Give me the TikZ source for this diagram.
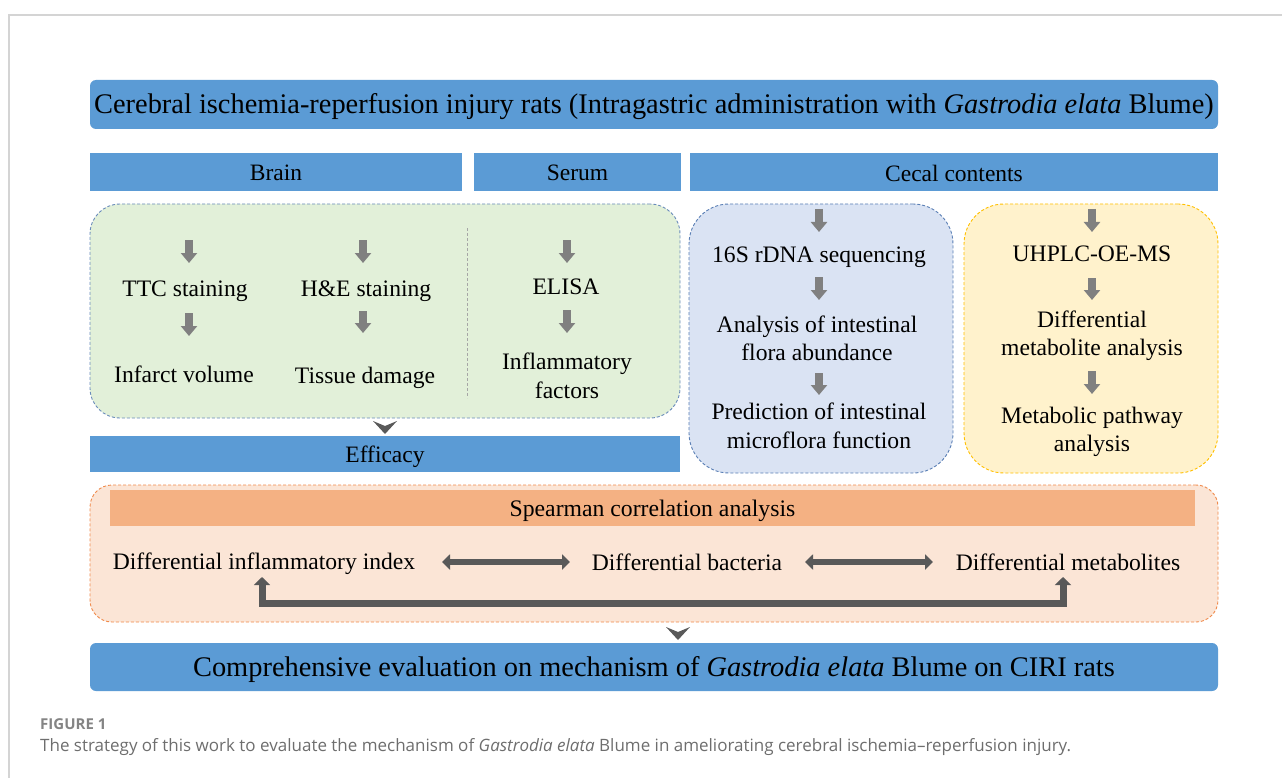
\documentclass[tikz,border=0pt]{standalone}
\usepackage{fontspec}
\setmainfont{Liberation Serif}
\newfontfamily\capfont{Open Sans}
\usetikzlibrary{arrows.meta}
\definecolor{hblue}{HTML}{5B9BD5}
\definecolor{gfill}{HTML}{E2F0D9}
\definecolor{bfill}{HTML}{DAE3F3}
\definecolor{yfill}{HTML}{FFF2CC}
\definecolor{ofill}{HTML}{FBE5D6}
\definecolor{obar}{HTML}{F4B183}
\definecolor{arrgray}{HTML}{808080}
\definecolor{dgray}{HTML}{595959}
\definecolor{gborder}{HTML}{6A8CBB}
\definecolor{bborder}{HTML}{5A7FB5}
\definecolor{yborder}{HTML}{FFC000}
\definecolor{oborder}{HTML}{F08A4B}
\definecolor{cardline}{HTML}{D4D4D4}
\definecolor{capgray}{HTML}{6E6E6E}
\tikzset{
  hbar/.style={fill=hblue, inner sep=0pt, font=\fontsize{23.5}{25}\selectfont},
  bigbar/.style={fill=hblue, inner sep=0pt, rounded corners=6pt, font=\fontsize{28.4}{30}\selectfont},
  panel/.style={dashed, dash pattern=on 3pt off 2pt, line width=0.9pt, inner sep=0pt},
  txt/.style={inner sep=0pt, align=center, font=\fontsize{23.6}{28.5}\selectfont},
  darr/.style={draw=arrgray, line width=8pt, -{Triangle[width=16pt,length=10pt]}},
  dbl/.style={draw=dgray, line width=6pt, {Triangle[width=15pt,length=8pt]}-{Triangle[width=15pt,length=8pt]}},
  chev/.style={fill=dgray}
}
\begin{document}
\begin{tikzpicture}[x=1pt,y=-1pt]
\useasboundingbox (0,0) rectangle (1282,778);
\fill[white] (0,0) rectangle (1282,778);
\draw[cardline, line width=1.5pt] (9,778) -- (9,15) -- (1282,15);

% title
\path[fill=hblue, rounded corners=6pt] (90,80) rectangle (1218,129);
\node[inner sep=0pt, font=\fontsize{28.4}{30}\selectfont] (title) at (654,106.5)
  {Cerebral ischemia-reperfusion injury rats (Intragastric administration with \textit{Gastrodia elata} Blume)};

% headers
\path[fill=hblue] (90,153) rectangle (462,191);
\path[fill=hblue] (474,153) rectangle (681,191);
\path[fill=hblue] (690,153) rectangle (1218,191);
\node[hbar] (brain) at (276,173) {Brain};
\node[hbar] (serum) at (577.5,173) {Serum};
\node[hbar] (cecal) at (954,173) {Cecal contents};

% panels
\node[panel, draw=gborder, fill=gfill, rounded corners=30pt, minimum width=590pt, minimum height=214pt] (green) at (385,311) {};
\node[panel, draw=bborder, fill=bfill, rounded corners=40pt, minimum width=264pt, minimum height=269pt] (bluep) at (821,338.5) {};
\node[panel, draw=yborder, fill=yfill, rounded corners=40pt, minimum width=254pt, minimum height=269pt] (yellowp) at (1091,338.5) {};
\draw[gray!70, dashed, dash pattern=on 3pt off 2pt, line width=0.8pt] (467,228) -- (467,398);

% green panel texts
\node[txt] (ttc) at (185,291) {TTC staining};
\node[txt] (he) at (366,291) {H\&E staining};
\node[txt] (infarct) at (184,374.5) {Infarct volume};
\node[txt] (tissue) at (365,378) {Tissue damage};
\node[txt] (elisa) at (566,287) {ELISA};
\node[txt] (inflf) at (567,376) {Inflammatory\\factors};
\draw[darr] (189,240) -- (189,263);
\draw[darr] (189,313) -- (189,336);
\draw[darr] (363,240) -- (363,263);
\draw[darr] (363,311) -- (363,333);
\draw[darr] (567,240) -- (567,263);
\draw[darr] (567,310) -- (567,333);

% efficacy
\fill[chev] (373,421) -- (385,426) -- (397,421) -- (385,434) -- cycle;
\path[fill=hblue] (90,436) rectangle (680,472);
\node[hbar] (eff) at (385,457) {Efficacy};

% blue panel
\node[txt] (seq) at (819,257) {16S rDNA sequencing};
\node[txt] (abund) at (817,338.5) {Analysis of intestinal\\flora abundance};
\node[txt] (pred) at (819,426) {Prediction of intestinal\\microflora function};
\draw[darr] (819,209) -- (819,232);
\draw[darr] (819,277) -- (819,300);
\draw[darr] (819,373) -- (819,395);

% yellow panel
\node[txt] (uhplc) at (1092,254) {UHPLC-OE-MS};
\node[txt] (diffm) at (1092,335.5) {Differential\\metabolite analysis};
\node[txt] (path) at (1092,432) {Metabolic pathway\\analysis};
\draw[darr] (1092,209) -- (1092,232);
\draw[darr] (1092,278) -- (1092,300);
\draw[darr] (1092,371) -- (1092,394);

% orange panel
\node[panel, draw=oborder, fill=ofill, rounded corners=22pt, minimum width=1128pt, minimum height=137pt] (orange) at (654,553.5) {};
\path[fill=obar] (110,490) rectangle (1195,526);
\node[inner sep=0pt, font=\fontsize{23.7}{25}\selectfont] (spear) at (652.5,511) {Spearman correlation analysis};
\node[txt] (dii) at (264,564) {Differential inflammatory index};
\node[txt] (dbac) at (687,562) {Differential bacteria};
\node[txt] (dmet) at (1068,562) {Differential metabolites};
\draw[dbl] (442,562) -- (570,562);
\draw[dbl] (805,562) -- (933,562);
\draw[draw=dgray, line width=7pt, {Triangle[width=16pt,length=8pt]}-{Triangle[width=16pt,length=8pt]}]
  (262,577) -- (262,603.5) -- (1063,603.5) -- (1063,577);

% bottom
\fill[chev] (666,627) -- (678,632) -- (690,627) -- (678,640) -- cycle;
\path[fill=hblue, rounded corners=6pt] (90,643) rectangle (1218,691);
\node[inner sep=0pt, font=\fontsize{28.4}{30}\selectfont] (final) at (654,670)
  {Comprehensive evaluation on mechanism of \textit{Gastrodia elata} Blume on CIRI rats};

% caption
\node[anchor=base west, inner sep=0pt, text=capgray!85, font=\capfont\bfseries\fontsize{15}{17}\selectfont] (figlab) at (40,729) {FIGURE 1};
\node[anchor=base west, inner sep=0pt, text=capgray, font=\capfont\fontsize{17}{19}\selectfont] (cap) at (40,751)
  {The strategy of this work to evaluate the mechanism of \textit{Gastrodia elata} Blume in ameliorating cerebral ischemia–reperfusion injury.};
\end{tikzpicture}
\end{document}
